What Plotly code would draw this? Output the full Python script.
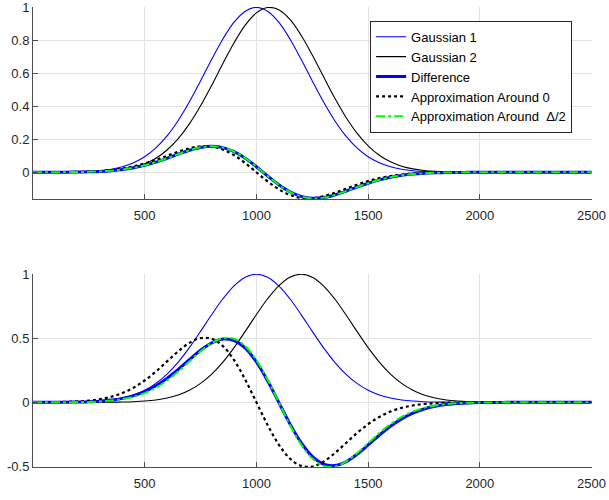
import plotly.graph_objects as go
from plotly.subplots import make_subplots

x_vals = list(range(0, 2501, 50))

# ---- top panel (small shift) ----
top_gauss1 = [0.0001, 0.0002, 0.0005, 0.0011, 0.0024, 0.0049, 0.0097, 0.0184, 0.0333, 0.0573,
              0.0941, 0.1475, 0.2204, 0.3142, 0.4271, 0.5539, 0.6852, 0.8084, 0.9098, 0.9766,
              1.0, 0.9766, 0.9098, 0.8084, 0.6852, 0.5539, 0.4271, 0.3142, 0.2204, 0.1475,
              0.0941, 0.0573, 0.0333, 0.0184, 0.0097, 0.0049, 0.0024, 0.0011, 0.0005, 0.0002,
              0.0001, 0, 0, 0, 0, 0, 0, 0, 0, 0, 0]
top_gauss2 = [0, 0.0001, 0.0002, 0.0004, 0.0009, 0.0020, 0.0043, 0.0085, 0.0163, 0.0297,
              0.0516, 0.0856, 0.1353, 0.2042, 0.2938, 0.4032, 0.5279, 0.6591, 0.7851, 0.8919,
              0.9665, 0.9991, 0.9850, 0.9263, 0.8309, 0.7109, 0.5802, 0.4516, 0.3353, 0.2375,
              0.1604, 0.1034, 0.0635, 0.0372, 0.0208, 0.0111, 0.0057, 0.0027, 0.0013, 0.0006,
              0.0002, 0.0001, 0, 0, 0, 0, 0, 0, 0, 0, 0]
top_diff = [0.0001, 0.0001, 0.0003, 0.0007, 0.0015, 0.0029, 0.0054, 0.0099, 0.0170, 0.0276,
            0.0425, 0.0619, 0.0851, 0.1100, 0.1333, 0.1507, 0.1573, 0.1493, 0.1247, 0.0847,
            0.0335, -0.0225, -0.0752, -0.1179, -0.1457, -0.1570, -0.1531, -0.1374, -0.1149, -0.0900,
            -0.0663, -0.0461, -0.0302, -0.0188, -0.0111, -0.0062, -0.0033, -0.0016, -0.0008, -0.0004,
            -0.0001, -0.0001, 0, 0, 0, 0, 0, 0, 0, 0, 0]
top_approx0 = [0.0001, 0.0002, 0.0005, 0.0011, 0.0022, 0.0042, 0.0077, 0.0136, 0.0227, 0.0357,
               0.0534, 0.0753, 0.1000, 0.1247, 0.1453, 0.1571, 0.1554, 0.1375, 0.1032, 0.0554,
               0, -0.0554, -0.1032, -0.1375, -0.1554, -0.1571, -0.1453, -0.1247, -0.1000, -0.0753,
               -0.0534, -0.0357, -0.0227, -0.0136, -0.0077, -0.0042, -0.0022, -0.0011, -0.0005, -0.0002,
               -0.0001, 0, 0, 0, 0, 0, 0, 0, 0, 0, 0]
top_approx_half = [0, 0.0001, 0.0003, 0.0007, 0.0014, 0.0028, 0.0054, 0.0097, 0.0168, 0.0274,
                   0.0423, 0.0617, 0.0850, 0.1101, 0.1337, 0.1514, 0.1582, 0.1503, 0.1257, 0.0854,
                   0.0337, -0.0226, -0.0758, -0.1188, -0.1467, -0.1579, -0.1537, -0.1379, -0.1151, -0.0899,
                   -0.0661, -0.0458, -0.0300, -0.0186, -0.0109, -0.0060, -0.0032, -0.0016, -0.0008, -0.0003,
                   -0.0002, -0.0001, 0, 0, 0, 0, 0, 0, 0, 0, 0]

# ---- bottom panel (large shift) ----
bot_gauss1 = list(top_gauss1)
bot_gauss2 = [0, 0, 0, 0, 0.0001, 0.0002, 0.0005, 0.0011, 0.0024, 0.0049,
              0.0097, 0.0184, 0.0333, 0.0573, 0.0941, 0.1475, 0.2204, 0.3142, 0.4271, 0.5539,
              0.6852, 0.8084, 0.9098, 0.9766, 1.0, 0.9766, 0.9098, 0.8084, 0.6852, 0.5539,
              0.4271, 0.3142, 0.2204, 0.1475, 0.0941, 0.0573, 0.0333, 0.0184, 0.0097, 0.0049,
              0.0024, 0.0011, 0.0005, 0.0002, 0.0001, 0, 0, 0, 0, 0, 0]
bot_diff = [0.0001, 0.0002, 0.0005, 0.0011, 0.0023, 0.0047, 0.0092, 0.0173, 0.0309, 0.0524,
            0.0844, 0.1291, 0.1871, 0.2569, 0.3330, 0.4064, 0.4648, 0.4942, 0.4827, 0.4227,
            0.3148, 0.1682, 0, -0.1682, -0.3148, -0.4227, -0.4827, -0.4942, -0.4648, -0.4064,
            -0.3330, -0.2569, -0.1871, -0.1291, -0.0844, -0.0524, -0.0309, -0.0173, -0.0092, -0.0047,
            -0.0023, -0.0011, -0.0005, -0.0002, -0.0001, 0, 0, 0, 0, 0, 0]
bot_approx0 = [0.0004, 0.0007, 0.0016, 0.0034, 0.0070, 0.0133, 0.0246, 0.0433, 0.0723, 0.1141,
               0.1703, 0.2403, 0.3192, 0.3981, 0.4638, 0.5013, 0.4961, 0.4390, 0.3294, 0.1768,
               0, -0.1768, -0.3294, -0.4390, -0.4961, -0.5013, -0.4638, -0.3981, -0.3192, -0.2403,
               -0.1703, -0.1141, -0.0723, -0.0433, -0.0246, -0.0133, -0.0070, -0.0034, -0.0016, -0.0007,
               -0.0004, -0.0002, 0, 0, 0, 0, 0, 0, 0, 0, 0]
bot_approx_half = [0, 0.0001, 0.0004, 0.0007, 0.0016, 0.0034, 0.0070, 0.0133, 0.0246, 0.0433,
                   0.0723, 0.1141, 0.1703, 0.2403, 0.3192, 0.3981, 0.4638, 0.5013, 0.4961, 0.4390,
                   0.3294, 0.1768, 0, -0.1768, -0.3294, -0.4390, -0.4961, -0.5013, -0.4638, -0.3981,
                   -0.3192, -0.2403, -0.1703, -0.1141, -0.0723, -0.0433, -0.0246, -0.0133, -0.0070, -0.0034,
                   -0.0016, -0.0007, -0.0004, -0.0002, -0.0001, 0, 0, 0, 0, 0, 0]

series_names = ["Gaussian 1", "Gaussian 2", "Difference",
                "Approximation Around 0", "Approximation Around \u00a0\u0394/2"]
x_tick_vals = [500, 1000, 1500, 2000, 2500]
x_tick_text = ["500", "1000", "1500", "2000", "2500"]
top_y_tick_vals = [0, 0.2, 0.4, 0.6, 0.8, 1]
top_y_tick_text = ["0", "0.2", "0.4", "0.6", "0.8", "1"]
bot_y_tick_vals = [-0.5, 0, 0.5, 1]
bot_y_tick_text = ["-0.5", "0", "0.5", "1"]

styles = [
    dict(color="#0000ff", width=1.1),
    dict(color="#000000", width=1.1),
    dict(color="#0000ff", width=3),
    dict(color="#000000", width=2.2, dash="dot"),
    dict(color="#00ff00", width=2, dash="dashdot"),
]

fig = make_subplots(rows=2, cols=1, vertical_spacing=0.16)

panels = [
    (1, [top_gauss1, top_gauss2, top_diff, top_approx0, top_approx_half], True),
    (2, [bot_gauss1, bot_gauss2, bot_diff, bot_approx0, bot_approx_half], False),
]
for row, ys, show in panels:
    for name, y, st in zip(series_names, ys, styles):
        fig.add_trace(go.Scatter(x=x_vals, y=y, mode="lines", name=name,
                                 line=dict(shape="spline", **st),
                                 showlegend=show), row=row, col=1)

axis_common = dict(showline=True, linecolor="#4d4d4d", linewidth=1, mirror=False,
                   ticks="inside", ticklen=5, tickcolor="#4d4d4d", automargin=False,
                   ticklabeloverflow="allow",
                   showgrid=True, gridcolor="#e3e3e3", gridwidth=1, zeroline=False,
                   tickfont=dict(family="Liberation Sans, Arial", size=13, color="#262626"))

fig.update_xaxes(range=[0, 2502], tickvals=x_tick_vals, ticktext=x_tick_text,
                 ticklabelstandoff=4, **axis_common)
fig.update_yaxes(range=[-0.162, 1.002], tickvals=top_y_tick_vals, ticktext=top_y_tick_text,
                 row=1, col=1, **axis_common)
fig.update_yaxes(range=[-0.505, 1.002], tickvals=bot_y_tick_vals, ticktext=bot_y_tick_text,
                 row=2, col=1, **axis_common)

fig.update_layout(
    width=609, height=500,
    margin=dict(l=33, r=17, t=7, b=33, autoexpand=False),
    paper_bgcolor="white", plot_bgcolor="white",
    font=dict(family="Liberation Sans, Arial", color="#262626"),
    yaxis=dict(domain=[0.5826, 1.0]),
    yaxis2=dict(domain=[0.0, 0.4196]),
    legend=dict(x=0.603, y=0.97, xanchor="left", yanchor="top",
                bgcolor="white", bordercolor="#262626", borderwidth=1,
                font=dict(family="Liberation Sans, Arial", size=13, color="#000000"),
                tracegroupgap=0, itemwidth=30),
    showlegend=True,
)

fig.write_html("out.html")
